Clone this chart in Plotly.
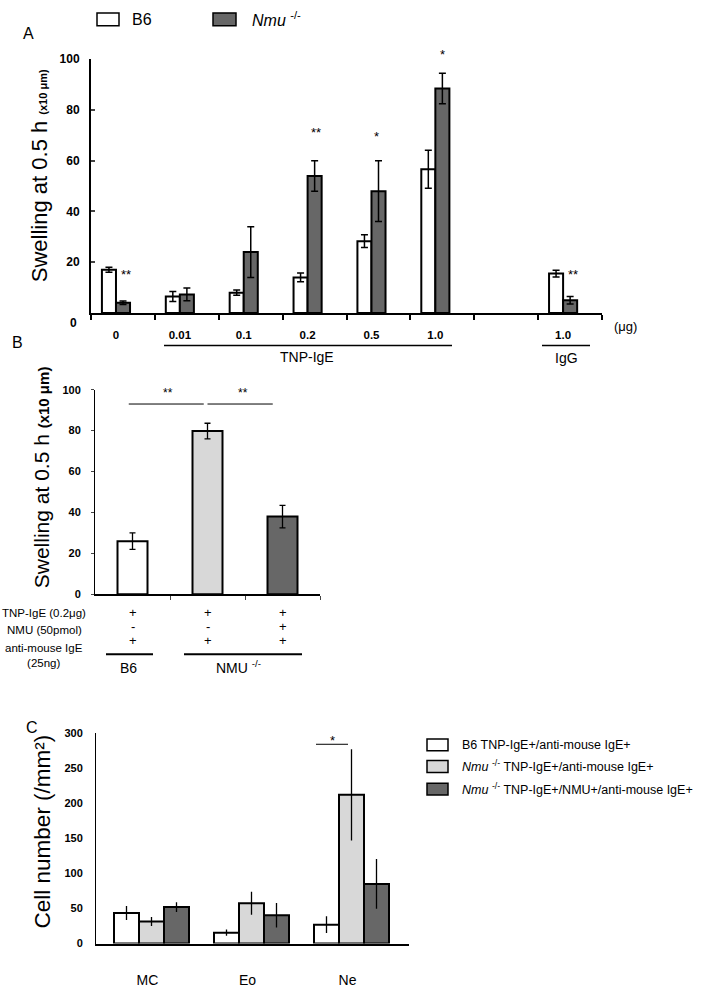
import plotly.graph_objects as go

W, H = 703, 988
FONT = "Liberation Sans, Arial, sans-serif"
WHITE, LIGHT, DARK = "#ffffff", "#d8d8d8", "#676767"

# ---------------- Panel A data ----------------
A_labels = ["0", "0.01", "0.1", "0.2", "0.5", "1.0", "1.0"]
A_pos = [0, 1, 2, 3, 4, 5, 7]
A_b6 = [17, 6.5, 8, 14, 28.3, 56.6, 15.5]
A_b6_err = [1, 2, 1, 1.7, 2.5, 7.5, 1.3]
A_nmu = [4, 7.3, 24, 54, 48, 88.4, 5]
A_nmu_err = [0.7, 2.5, 10, 6, 12, 6, 1.5]
A_yticks = [20, 40, 60, 80, 100]
A_stars = ["**", "**", "*", "*", "**"]
A_star_x = [0.16, 3.13, 4.08, 5.11, 7.15]
A_star_ypx = [272, 128, 132, 48, 272]   # vertical placement (pixels from top)

# ---------------- Panel B data ----------------
B_groups = ["B6", "Nmu-/-", "Nmu-/- +NMU"]
B_vals = [26, 79.8, 38]
B_err = [4, 3.8, 5.5]
B_rows = ["TNP-IgE (0.2\u03bcg)", "NMU (50pmol)", "anti-mouse IgE<br>(25ng)"]
B_signs = [["+", "+", "+"], ["-", "-", "+"], ["+", "+", "+"]]
B_yticks = [0, 20, 40, 60, 80, 100]

# ---------------- Panel C data ----------------
C_cats = ["MC", "Eo", "Ne"]
C_b6 = [43.5, 15.5, 27]
C_b6_err = [10, 4.5, 12]
C_nmu = [31.5, 57.5, 212]
C_nmu_err = [6.5, 16.5, 65]
C_nmu_nmu = [52, 40.5, 85]
C_nmu_nmu_err = [7, 17.5, 35.5]
C_yticks = [0, 50, 100, 150, 200, 250, 300]
C_legend = ["B6 TNP-IgE+/anti-mouse IgE+",
            "<i>Nmu</i> <sup>-/-</sup> TNP-IgE+/anti-mouse IgE+",
            "<i>Nmu</i> <sup>-/-</sup> TNP-IgE+/NMU+/anti-mouse IgE+"]


def px(x):
    return x / W


def py(y):
    return 1 - y / H


def err(arr, width=3.5, thick=1.5):
    return dict(type="data", array=arr, color="black", thickness=thick, width=width, visible=True)


OUT = dict(color="black", width=2)
fig = go.Figure()

# Panel A bars
fig.add_trace(go.Bar(x=A_pos, y=A_b6, width=0.22, offset=-0.22,
                     marker=dict(color=WHITE, line=OUT), error_y=err(A_b6_err),
                     xaxis="x", yaxis="y", showlegend=False))
fig.add_trace(go.Bar(x=A_pos, y=A_nmu, width=0.22, offset=0,
                     marker=dict(color=DARK, line=OUT), error_y=err(A_nmu_err),
                     xaxis="x", yaxis="y", showlegend=False))

# Panel B bars
fig.add_trace(go.Bar(x=[0, 1, 2], y=B_vals, width=0.4,
                     marker=dict(color=[WHITE, LIGHT, DARK], line=OUT),
                     error_y=err(B_err, width=3, thick=1.3),
                     xaxis="x2", yaxis="y2", showlegend=False))

# Panel C bars
for vals, e, col, off in [(C_b6, C_b6_err, WHITE, -0.375),
                          (C_nmu, C_nmu_err, LIGHT, -0.125),
                          (C_nmu_nmu, C_nmu_nmu_err, DARK, 0.125)]:
    fig.add_trace(go.Bar(x=[0, 1, 2], y=vals, width=0.25, offset=off,
                         marker=dict(color=col, line=OUT), error_y=err(e, width=0, thick=1.3),
                         xaxis="x3", yaxis="y3", showlegend=False))

tickfont_b = dict(family=FONT, size=12, color="black", weight="bold")

fig.update_layout(
    width=W, height=H, margin=dict(l=0, r=0, t=0, b=0),
    paper_bgcolor="white", plot_bgcolor="white", barmode="overlay",
    font=dict(family=FONT, color="black"),
    xaxis=dict(domain=[px(91), px(602)], range=[-0.391, 7.609], anchor="y",
               tickmode="array", tickvals=A_pos, ticktext=A_labels, ticks="",
               tickfont=dict(family=FONT, size=11.5, color="black", weight="bold"),
               ticklabelstandoff=10,
               minor=dict(tickmode="array", tickvals=[-0.391 + k for k in range(9)],
                          ticks="outside", ticklen=5, tickwidth=2, tickcolor="black"),
               showline=True, linecolor="black", linewidth=2, showgrid=False, zeroline=False),
    yaxis=dict(domain=[py(311), py(53)], range=[0, 100], anchor="x",
               tickmode="array", tickvals=A_yticks, ticks="inside", ticklen=4, tickwidth=1.5,
               tickfont=tickfont_b, ticklabelstandoff=7,
               showline=True, linecolor="black", linewidth=2, showgrid=False, zeroline=False),
    xaxis2=dict(domain=[px(95), px(320)], range=[-0.5, 2.5], anchor="y2",
                tickmode="array", tickvals=[0.5, 1.5, 2.5], showticklabels=False,
                ticks="outside", ticklen=4, tickwidth=1,
                showline=True, linecolor="black", linewidth=1.5, showgrid=False, zeroline=False),
    yaxis2=dict(domain=[py(597), py(389)], range=[0, 100], anchor="x2",
                tickmode="array", tickvals=B_yticks, ticks="outside", ticklen=3, tickwidth=1,
                tickfont=dict(family=FONT, size=11, color="black", weight="bold"),
                ticklabelstandoff=8,
                showline=True, linecolor="black", linewidth=1, showgrid=False, zeroline=False),
    xaxis3=dict(domain=[px(96), px(409)], range=[-0.555, 2.575], anchor="y3",
                tickmode="array", tickvals=[0, 1, 2], ticktext=C_cats, ticks="",
                tickfont=dict(family=FONT, size=14, color="black"), ticklabelstandoff=23,
                ticklabelshift=-4,
                showline=True, linecolor="black", linewidth=2, showgrid=False, zeroline=False),
    yaxis3=dict(domain=[py(952), py(738)], range=[0, 300], anchor="x3",
                tickmode="array", tickvals=C_yticks, ticks="",
                tickfont=dict(family=FONT, size=11, color="black", weight="bold"),
                ticklabelstandoff=10,
                showline=True, linecolor="black", linewidth=1, showgrid=False, zeroline=False),
)

ann = []
shapes = []


def text(x, y, t, size=12, xanchor="center", yanchor="middle", angle=0, xref="paper", yref="paper", weight="normal"):
    ann.append(dict(x=x, y=y, xref=xref, yref=yref, text=t, showarrow=False, xanchor=xanchor,
                    yanchor=yanchor, textangle=angle,
                    font=dict(family=FONT, size=size, color="black", weight=weight)))


def line(x0, y0, x1, y1, xref="paper", yref="paper", w=1.5):
    shapes.append(dict(type="line", x0=x0, y0=y0, x1=x1, y1=y1, xref=xref, yref=yref,
                       line=dict(color="black", width=w)))


def box(x0, y0, x1, y1, fill):
    shapes.append(dict(type="rect", x0=px(x0), x1=px(x1), y0=py(y1), y1=py(y0),
                       xref="paper", yref="paper", fillcolor=fill,
                       line=dict(color="black", width=1.5)))


# ---- Panel A extras ----
text(px(28), py(27), "A", 16)
box(97, 6, 119, 19, WHITE)
text(px(130), py(13), "B6", 16, xanchor="left")
box(213, 6, 236, 19, DARK)
text(px(250), py(12), "<i>Nmu</i> <sup>-/-</sup>", 16, xanchor="left")
text(px(39), py(172), "Swelling at 0.5 h <span style='font-size:11px'><b>(x10 \u03bcm)</b></span>",
     22, angle=-90)
text(px(79), py(321), "0", 12, xanchor="right", weight="bold")
for s, sx, sy in zip(A_stars, A_star_x, A_star_ypx):
    text(sx, py(sy), s, 13, xref="x", yref="paper")
text(px(625), py(325), "(\u03bcg)", 13)
line(px(164), py(344), px(452), py(344))
line(px(542), py(344), px(590), py(344))
text(px(307), py(356), "TNP-IgE", 14)
text(px(566), py(357), "IgG", 14)

# ---- Panel B extras ----
text(px(17), py(341), "B", 16)
text(px(41), py(478), "Swelling at 0.5 h <span style='font-size:15px'><b>(x10 \u03bcm)</b></span>",
     21, angle=-90)
line(-0.05, 93, 0.95, 93, xref="x2", yref="y2", w=1)
line(1.0, 93, 1.87, 93, xref="x2", yref="y2", w=1)
text(0.47, 98.5, "**", 12, xref="x2", yref="y2")
text(1.47, 98.5, "**", 12, xref="x2", yref="y2")
row_label_y = [616, 633, 659]
sign_row_y = [615, 630, 644]
for lbl, ly in zip(B_rows, row_label_y):
    text(px(44), py(ly), lbl, 11.5)
for r, sy in enumerate(sign_row_y):
    for c in range(3):
        text(c, py(sy), B_signs[r][c], 13, xref="x2")
line(px(106), py(658), px(153), py(658), w=2)
line(px(184), py(658), px(302), py(658), w=2)
text(px(128), py(672), "B6", 14)
text(px(238), py(671), "NMU <sup>-/-</sup>", 14)

# ---- Panel C extras ----
text(px(32), py(732), "C", 16)
text(px(42), py(838), "Cell number (/mm\u00b2)", 22.5, angle=-90)
line(1.645, 284, 1.965, 284, xref="x3", yref="y3", w=1)
text(1.805, 290, "*", 13, xref="x3", yref="y3")
for lbl, fill, cy in zip(C_legend, [WHITE, LIGHT, DARK], [750, 772, 795]):
    box(427, cy - 6, 448, cy + 6, fill)
    text(px(460), py(cy), lbl, 12.5, xanchor="left")

fig.update_layout(annotations=ann, shapes=shapes)
fig.write_html("out.html", config={"displayModeBar": False},
               post_script="document.body.style.margin='0';")
